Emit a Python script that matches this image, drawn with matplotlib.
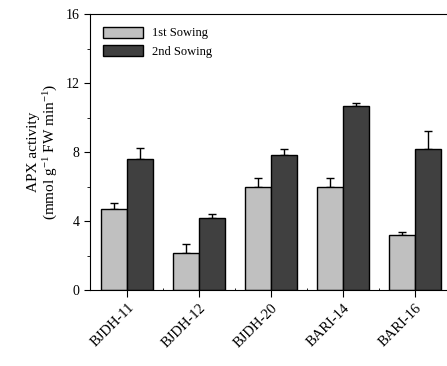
import numpy as np
import matplotlib
matplotlib.use('Agg')
import matplotlib.pyplot as plt
from matplotlib.ticker import MultipleLocator

plt.rcParams['font.family'] = ['Liberation Serif', 'DejaVu Serif']
plt.rcParams['mathtext.fontset'] = 'custom'
plt.rcParams['mathtext.rm'] = 'Liberation Serif'
plt.rcParams['mathtext.it'] = 'Liberation Serif:italic'

cultivars = ['BJDH-11', 'BJDH-12', 'BJDH-20', 'BARI-14', 'BARI-16']
first_sowing = [4.68, 2.13, 5.95, 5.95, 3.19]
first_err = [0.35, 0.52, 0.56, 0.55, 0.19]
second_sowing = [7.61, 4.16, 7.80, 10.67, 8.15]
second_err = [0.64, 0.25, 0.37, 0.19, 1.05]

fig = plt.figure(figsize=(4.47, 3.66), dpi=100)
ax = fig.add_axes([90 / 447, 1 - 290 / 366, 362 / 447, 276 / 366])

x = np.arange(len(cultivars))
w = 0.36
ax.bar(x - w / 2, first_sowing, w, color='#c0c0c0', edgecolor='black', lw=1,
       label='1st Sowing', zorder=2)
ax.bar(x + w / 2, second_sowing, w, color='#404040', edgecolor='black', lw=1,
       label='2nd Sowing', zorder=2)
ax.errorbar(x - w / 2, first_sowing, yerr=[np.zeros(5), first_err], fmt='none',
            ecolor='black', elinewidth=1, capsize=3, capthick=1, zorder=1)
ax.errorbar(x + w / 2, second_sowing, yerr=[np.zeros(5), second_err], fmt='none',
            ecolor='black', elinewidth=1, capsize=3, capthick=1, zorder=1)

ax.set_xlim(-0.52, 4.52)
ax.set_ylim(0, 16)
ax.yaxis.set_major_locator(MultipleLocator(4))
ax.yaxis.set_minor_locator(MultipleLocator(2))
ax.set_xticks(x)
ax.set_xticks(x[:-1] + 0.5, minor=True)
ax.set_xticklabels(cultivars, rotation=45, ha='right', rotation_mode='anchor',
                   fontsize=10.5)
ax.tick_params(axis='y', which='major', direction='out', length=4, labelsize=10)
ax.tick_params(axis='y', which='minor', direction='out', length=2)
ax.tick_params(axis='x', which='major', direction='out', length=5, pad=3)
ax.tick_params(axis='x', which='minor', direction='in', length=1.5)
ax.spines['right'].set_visible(False)

ax.set_ylabel('APX activity\n(mmol g$^{-1}$ FW min$^{-1}$)', fontsize=11,
              linespacing=1.1)

ax.legend(loc='upper left', frameon=False, fontsize=9, handlelength=3.2,
          handleheight=1.0, borderaxespad=0.6, labelspacing=0.45,
          bbox_to_anchor=(0.0, 1.0))

fig.savefig('out.png', dpi=100)
